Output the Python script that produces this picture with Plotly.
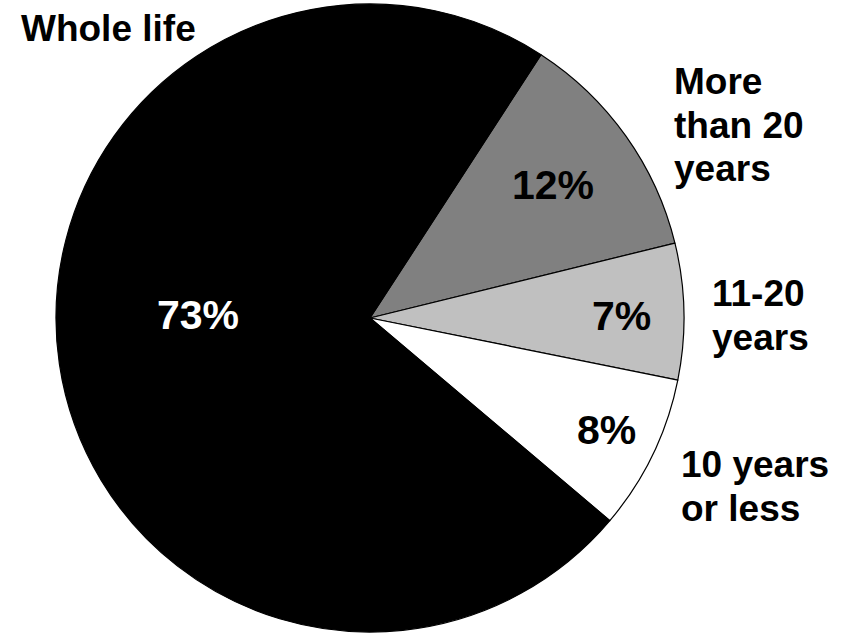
import plotly.graph_objects as go

# slices, clockwise from the top-right
labels = ["More than 20 years", "11-20 years", "10 years or less", "Whole life"]
values = [12, 7, 8, 73]
pct_text = ["12%", "7%", "8%", "73%"]
colors = ["#808080", "#c0c0c0", "#ffffff", "#000000"]
pct_colors = ["black", "black", "black", "white"]

# outside label lines
label_lines = [
    ["More", "than 20", "years"],
    ["11-20", "years"],
    ["10 years", "or less"],
    ["Whole life"],
]

W, H = 842, 633
FONT = "Liberation Sans, Arial, sans-serif"

# pixel anchors (left x, centre y of each line) for the outside labels
label_pos = [
    (672, [81, 125, 168]),
    (710, [293, 337]),
    (679, [464, 508]),
    (19, [28]),
]
# pixel centres of the percentage labels
pct_pos = [(553, 185), (621, 316), (606, 430), (198, 315)]

fig = go.Figure(
    go.Pie(
        labels=labels,
        values=values,
        sort=False,
        direction="clockwise",
        rotation=33,
        marker=dict(colors=colors, line=dict(color="black", width=1.2)),
        textinfo="none",
        hoverinfo="label+percent",
        showlegend=False,
        domain=dict(x=[56 / W, 684 / W], y=[1 - 632 / H, 1 - 4 / H]),
    )
)

annotations = []
for lines, (lx, ys) in zip(label_lines, label_pos):
    for line, py in zip(lines, ys):
        annotations.append(
            dict(
                text=f"<b>{line}</b>",
                x=lx / W,
                y=1 - py / H,
                xref="paper",
                yref="paper",
                xanchor="left",
                yanchor="middle",
                showarrow=False,
                font=dict(family=FONT, size=37, color="black"),
            )
        )
for txt, col, (px, py) in zip(pct_text, pct_colors, pct_pos):
    annotations.append(
        dict(
            text=f"<b>{txt}</b>",
            x=px / W,
            y=1 - py / H,
            xref="paper",
            yref="paper",
            xanchor="center",
            yanchor="middle",
            showarrow=False,
            font=dict(family=FONT, size=41, color=col),
        )
    )

fig.update_layout(
    width=W,
    height=H,
    margin=dict(l=0, r=0, t=0, b=0),
    paper_bgcolor="white",
    plot_bgcolor="white",
    annotations=annotations,
)

# drop the default page margin so the figure sits at the window's corner
fig.write_html(
    "out.html",
    config={"displayModeBar": False},
    post_script="document.body.style.margin='0';",
)
